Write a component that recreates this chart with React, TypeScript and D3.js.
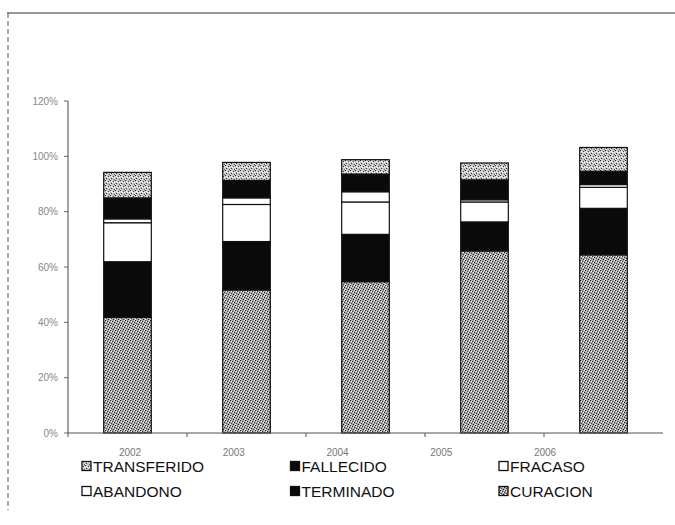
import { scaleBand, scaleLinear, scalePoint, stack } from 'd3'

const years = ['2002', '2003', '2004', '2005', '2006']
// series listed bottom to top, as stacked in the bars
const curacion = [41.8, 51.7, 54.7, 65.8, 64.4]
const terminado = [20.1, 17.5, 17.1, 10.5, 16.8]
const abandono = [14.1, 13.4, 11.7, 7.2, 7.6]
const fracaso = [1.4, 2.4, 3.7, 0.8, 1.0]
const fallecido = [7.6, 6.3, 6.4, 7.2, 4.8]
const transferido = [9.2, 6.5, 5.2, 6.1, 8.6]
const yTicks = [0, 20, 40, 60, 80, 100, 120]
const legendOrder = ['TRANSFERIDO', 'FALLECIDO', 'FRACASO', 'ABANDONO', 'TERMINADO', 'CURACION']

const seriesKeys = ['CURACION', 'TERMINADO', 'ABANDONO', 'FRACASO', 'FALLECIDO', 'TRANSFERIDO']
const seriesValues: Record<string, number[]> = {
  CURACION: curacion,
  TERMINADO: terminado,
  ABANDONO: abandono,
  FRACASO: fracaso,
  FALLECIDO: fallecido,
  TRANSFERIDO: transferido,
}
const fills: Record<string, string> = {
  CURACION: 'url(#dotsDark)',
  TERMINADO: '#0a0a0a',
  ABANDONO: '#ffffff',
  FRACASO: '#ffffff',
  FALLECIDO: '#0a0a0a',
  TRANSFERIDO: 'url(#dotsLight)',
}

export default function App() {
  const width = 675
  const height = 525
  const x = scaleBand().domain(years).range([68, 663]).paddingInner(0.6).paddingOuter(0.3)
  const y = scaleLinear().domain([0, 120]).range([433, 101])
  // year labels sit a little off the bars in the scanned original
  const labelX = scalePoint().domain(years).range([130, 545])

  const rows = years.map((year, i) => {
    const row: Record<string, number | string> = { year }
    seriesKeys.forEach((key) => (row[key] = seriesValues[key][i]))
    return row
  })
  const layers = stack<Record<string, number | string>>().keys(seriesKeys)(rows)

  const legendCol = scalePoint().domain(['0', '1', '2']).range([82, 499])
  const legendRow = scalePoint().domain(['0', '1']).range([466, 491])

  return (
    <svg width={width} height={height} style={{ position: 'absolute', left: 0, top: 0, background: '#fff' }}>
      <defs>
        <pattern id="dotsDark" width="5" height="5" patternUnits="userSpaceOnUse">
          <rect width="5" height="5" fill="#a8a8a8" />
          <rect x="0" y="0" width="1" height="1" fill="#111" />
          <rect x="2" y="1" width="1" height="1" fill="#333" />
          <rect x="4" y="2" width="1" height="1" fill="#222" />
          <rect x="1" y="3" width="1" height="1" fill="#444" />
          <rect x="3" y="4" width="1" height="1" fill="#1a1a1a" />
          <rect x="1" y="1" width="1" height="1" fill="#fff" />
          <rect x="3" y="2" width="1" height="1" fill="#f4f4f4" />
          <rect x="0" y="4" width="1" height="1" fill="#fff" />
          <rect x="4" y="0" width="1" height="1" fill="#eee" />
        </pattern>
        <pattern id="dotsLight" width="5" height="5" patternUnits="userSpaceOnUse">
          <rect width="5" height="5" fill="#c6c6c6" />
          <rect x="0" y="0" width="1" height="1" fill="#222" />
          <rect x="3" y="1" width="1" height="1" fill="#444" />
          <rect x="1" y="3" width="1" height="1" fill="#333" />
          <rect x="4" y="4" width="1" height="1" fill="#555" />
          <rect x="1" y="1" width="1" height="1" fill="#fff" />
          <rect x="2" y="2" width="1" height="1" fill="#fff" />
          <rect x="4" y="2" width="1" height="1" fill="#fafafa" />
          <rect x="0" y="4" width="1" height="1" fill="#fff" />
        </pattern>
      </defs>

      <line x1="7" x2={width} y1="13" y2="13" stroke="#333" strokeWidth="1" />
      <line x1="8" x2="8" y1="13" y2="510" stroke="#555" strokeWidth="1" strokeDasharray="5 3" />

      {/* y axis */}
      <line x1="68" x2="68" y1={y(120)} y2={y(0)} stroke="#666" strokeWidth="1.2" />
      {yTicks.map((t) => (
        <g key={t}>
          <line x1="64" x2="68" y1={y(t)} y2={y(t)} stroke="#666" />
          <text x="58" y={y(t)} dy="0.35em" textAnchor="end" fontFamily="Liberation Sans, Arial, sans-serif" fontSize="10" fill="#888">
            {t}%
          </text>
        </g>
      ))}

      {/* bars */}
      {layers.map((layer) =>
        layer.map((d, i) => (
          <rect
            key={layer.key + i}
            x={x(years[i])}
            y={y(d[1])}
            width={x.bandwidth()}
            height={y(d[0]) - y(d[1])}
            fill={fills[layer.key]}
            stroke="#111"
            strokeWidth="1.2"
          />
        )),
      )}

      {/* x axis */}
      <line x1="68" x2="663" y1={y(0)} y2={y(0)} stroke="#555" strokeWidth="1.2" />
      {years.map((yr) => (
        <line key={yr} x1={(x(yr) ?? 0) - x.step() * 0.3} x2={(x(yr) ?? 0) - x.step() * 0.3} y1={y(0)} y2={y(0) + 4} stroke="#555" />
      ))}
      {years.map((yr) => (
        <text key={yr} x={labelX(yr)} y="456" textAnchor="middle" fontFamily="Liberation Sans, Arial, sans-serif" fontSize="10" fill="#777">
          {yr}
        </text>
      ))}

      {/* legend */}
      {legendOrder.map((name, i) => {
        const lx = legendCol(String(i % 3)) ?? 0
        const ly = legendRow(String(Math.floor(i / 3))) ?? 0
        return (
          <g key={name}>
            <rect x={lx} y={ly - 4.5} width="9" height="9" fill={fills[name]} stroke="#111" strokeWidth="1.3" />
            <text x={lx + 11} y={ly} dy="0.36em" fontFamily="Liberation Sans, Arial, sans-serif" fontSize="15.5" fill="#111">
              {name}
            </text>
          </g>
        )
      })}
    </svg>
  )
}
